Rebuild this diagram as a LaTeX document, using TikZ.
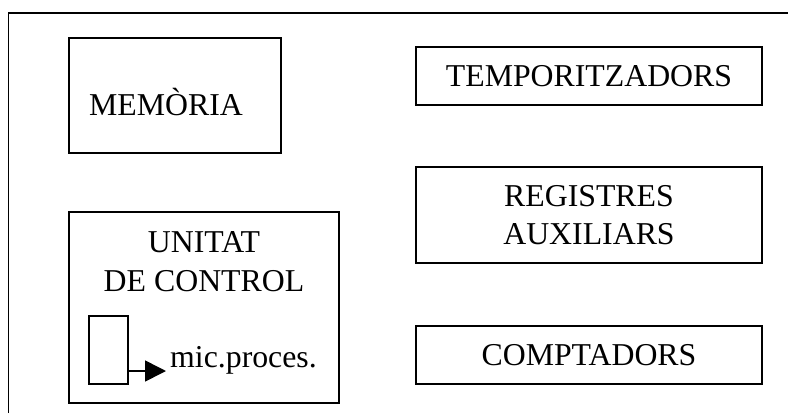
\documentclass[tikz,border=0pt]{standalone}
\usepackage{fontspec}
\setmainfont{Liberation Serif}
\usetikzlibrary{positioning,arrows.meta}

\begin{document}
\begin{tikzpicture}[x=1pt,y=-1pt]
		\tikzstyle{block} = [rectangle,draw=black,line width=1.6pt,inner sep=0pt,font=\fontsize{31.8}{38.7}\selectfont]
		\tikzstyle{txt} = [inner sep=0pt,font=\fontsize{31.8}{38.7}\selectfont]
		\tikzstyle{arr} = [-{Triangle[length=21pt,width=21pt]},line width=1.6pt]
		
		\useasboundingbox (0,0) rectangle (788,413);
		\draw[line width=1.8pt] (8.5,413) -- (8.5,13) -- (788,13);
		
		\node[block,minimum width=212pt,minimum height=115pt] (mem) at (175,95.5) {};
		\node[txt,anchor=base west] (memtxt) at (89,115) {MEMÒRIA};
		
		\node[block,minimum width=346pt,minimum height=58pt] (temp) at (589,76) {TEMPORITZADORS};
		\node[block,minimum width=346pt,minimum height=96pt,align=center] (reg) at (589,215) {REGISTRES\\AUXILIARS};
		\node[block,minimum width=346pt,minimum height=58pt] (comp) at (589,355) {COMPTADORS};
		
		\node[block,minimum width=270pt,minimum height=191pt] (uc) at (204,307.5) {};
		\node[txt,align=center,below=20pt of uc.north] (uctxt) {UNITAT\\DE CONTROL};
		
		\node[block,minimum width=39pt,minimum height=68pt] (mp) at (108.5,350) {};
		\node[txt,anchor=base west] (mptxt) at (170,367) {mic.proces.};
		
		\draw[arr] ([yshift=-21pt]mp.east) -- ([xshift=-4pt,yshift=-4pt]mptxt.base west);
	\end{tikzpicture}
\end{document}
